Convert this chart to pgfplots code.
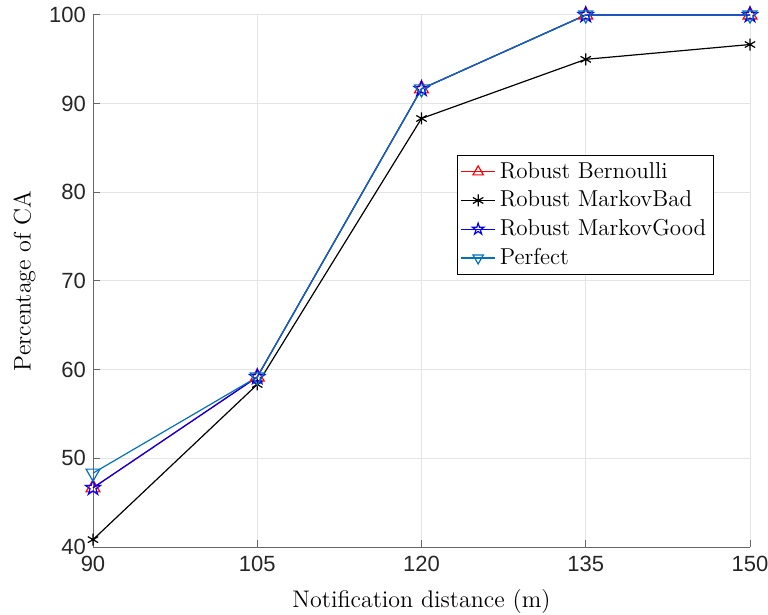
\documentclass[border=0pt]{standalone}
\usepackage{fontspec}
\usepackage{pgfplots}
\pgfplotsset{compat=1.18}
\usetikzlibrary{plotmarks}
\newfontfamily\ticksf{Liberation Sans}
\definecolor{mblue}{rgb}{0,0.447,0.741}
\definecolor{axgray}{rgb}{0.15,0.15,0.15}
\pgfdeclareplotmark{pentagram}{%
  \pgfpathmoveto{\pgfpointpolar{90}{\pgfplotmarksize}}%
  \pgfpathlineto{\pgfpointpolar{126}{0.382\pgfplotmarksize}}%
  \pgfpathlineto{\pgfpointpolar{162}{\pgfplotmarksize}}%
  \pgfpathlineto{\pgfpointpolar{198}{0.382\pgfplotmarksize}}%
  \pgfpathlineto{\pgfpointpolar{234}{\pgfplotmarksize}}%
  \pgfpathlineto{\pgfpointpolar{270}{0.382\pgfplotmarksize}}%
  \pgfpathlineto{\pgfpointpolar{306}{\pgfplotmarksize}}%
  \pgfpathlineto{\pgfpointpolar{342}{0.382\pgfplotmarksize}}%
  \pgfpathlineto{\pgfpointpolar{18}{\pgfplotmarksize}}%
  \pgfpathlineto{\pgfpointpolar{54}{0.382\pgfplotmarksize}}%
  \pgfpathclose
  \pgfusepathqstroke
}
\begin{document}
\begin{tikzpicture}
\begin{axis}[
  name=ax,
  scale only axis,
  width=328.5pt, height=266pt,
  xmin=90, xmax=150, ymin=40, ymax=100,
  xtick={90,105,120,135,150},
  ytick={40,50,...,100},
  axis lines=left,
  axis line style={draw=axgray!70, line width=0.5pt, -},
  tick style={draw=axgray!70, line width=0.5pt},
  tick align=inside,
  major tick length=3.3pt,
  grid=major,
  major grid style={draw=gray!20, line width=0.5pt},
  /pgf/number format/assume math mode=true,
  ticklabel style={font=\ticksf\fontsize{11}{13}\selectfont, text=axgray},
  xticklabel style={yshift=-1pt},
  xlabel={Notification distance (m)},
  ylabel={Percentage of CA},
  label style={font=\fontsize{12}{14}\selectfont},
  xlabel style={yshift=-2pt},
  legend style={at={(0.554,0.737)}, anchor=north west, draw=black, line width=0.5pt,
    font=\fontsize{11.5}{13.5}\selectfont, inner sep=1.5pt, row sep=0.8pt,
    legend cell align=left},
  legend image post style={line width=0.6pt, mark size=3pt},
  clip=false,
]
\addplot[color=red, line width=0.6pt, mark=triangle, mark size=4pt, mark options={solid}]
  coordinates {(90,46.67) (105,59.17) (120,91.67) (135,100) (150,100)};
\addlegendentry{Robust Bernoulli}
\addplot[color=black, line width=0.6pt, mark=asterisk, mark size=3pt]
  coordinates {(90,40.83) (105,58.33) (120,88.33) (135,95.0) (150,96.67)};
\addlegendentry{Robust MarkovBad}
\addplot[color=blue, line width=0.6pt, mark=pentagram, mark size=4pt]
  coordinates {(90,46.67) (105,59.17) (120,91.67) (135,100) (150,100)};
\addlegendentry{Robust MarkovGood}
\addplot[color=mblue, line width=0.6pt, mark=triangle, mark size=4pt, mark options={rotate=180}]
  coordinates {(90,48.33) (105,59.17) (120,91.67) (135,100) (150,100)};
\addlegendentry{Perfect}
\end{axis}
\pgfresetboundingbox
\path ([shift={(-46.5pt,-33.5pt)}]ax.south west) rectangle ([shift={(9pt,7.5pt)}]ax.north east);
\end{tikzpicture}
\end{document}
